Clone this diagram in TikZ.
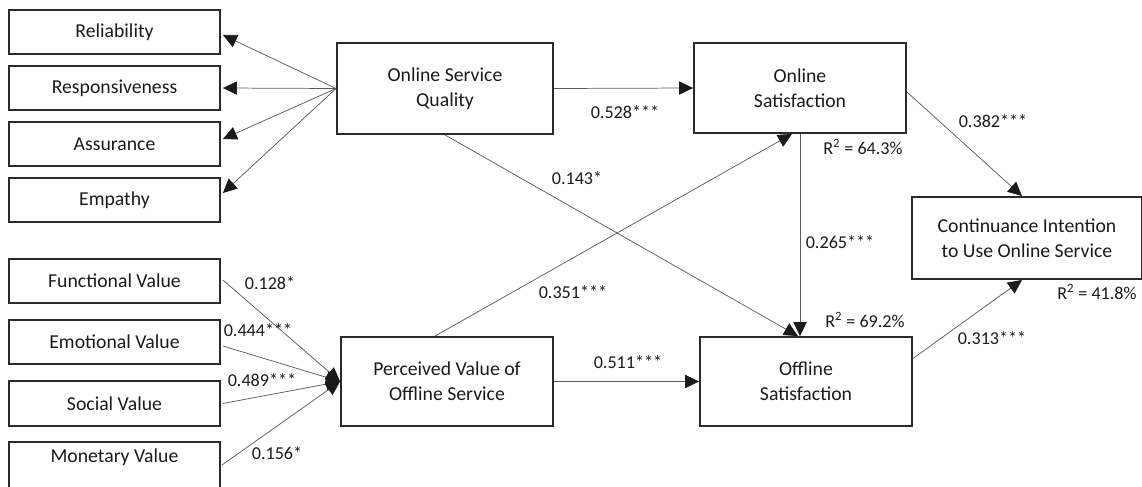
\documentclass[tikz,border=0pt]{standalone}
\usepackage{fontspec}
\setmainfont{Carlito}
\usetikzlibrary{arrows.meta,calc}
\definecolor{bordercol}{HTML}{2A2A2A}
\definecolor{linecol}{HTML}{5A5A5A}
\definecolor{tipcol}{HTML}{1A1A1A}
\definecolor{txtcol}{HTML}{1A1A1A}
\tikzset{
  box/.style={draw=bordercol, line width=1.4pt, rectangle, inner sep=0pt, align=center,
    text=txtcol, font=\fontsize{14.8}{18.75}\selectfont},
  smallbox/.style={box, minimum width=158.25pt, minimum height=33pt},
  bigbox/.style={box, minimum width=159pt, minimum height=67.5pt},
  conn/.style={draw=linecol, line width=0.55pt, -{Triangle[length=10.5pt,width=10pt,color=tipcol,fill=tipcol]}},
  lbl/.style={inner sep=0pt, text=txtcol, font=\fontsize{13.6}{16}\selectfont}
}
\begin{document}
\begin{tikzpicture}[x=0.75pt,y=-0.75pt]
\useasboundingbox (0,0) rectangle (1142,486);
% left boxes
\node[smallbox] (rel)  at (114.5,32)  {Reliability};
\node[smallbox] (resp) at (114.5,88)  {Responsiveness};
\node[smallbox] (assu) at (114.5,144) {Assurance};
\node[smallbox] (emp)  at (114.5,200) {Empathy};
\node[smallbox] (func) at (114.5,281) {Functional Value};
\node[smallbox] (emo)  at (114.5,342) {Emotional Value};
\node[smallbox, minimum height=33.75pt] (soc) at (114.5,403.5) {Social Value};
\node[smallbox, minimum height=45pt, text height=8pt, text depth=22pt] (mon) at (114.5,472) {Monetary Value};
% main boxes
\node[box, minimum width=162pt, minimum height=68.25pt] (osq) at (445,88.5) {Online Service\\Quality};
\node[bigbox] (ons)  at (800,88)    {Online\\Satisfaction};
\node[bigbox, minimum height=66.75pt] (pv)   at (447,381.5) {Perceived Value of\\Offline Service};
\node[bigbox, minimum height=66.75pt] (offs) at (806,381.5) {Offline\\Satisfaction};
\node[box, minimum width=172.5pt, minimum height=61.5pt] (ci) at (1027,238) {Continuance Intention\\to Use Online Service};
% dimension arrows
\draw[conn] (osq.west) -- ($(rel.east)+(2,3)$);
\draw[conn] (osq.west) -- ($(resp.east)+(2,0)$);
\draw[conn] (osq.west) -- ($(assu.east)+(2,-5)$);
\draw[conn] (osq.west) -- ($(emp.east)+(2,-7)$);
% value arrows
\draw[conn] ($(func.east)+(2,-1)$) -- (pv.west);
\draw[conn] ($(emo.east)+(2,4)$) -- (pv.west);
\draw[conn] ($(soc.east)+(2,0)$) -- (pv.west);
\draw[conn] (222,465) coordinate (monout) -- (pv.west);
% structural paths
\draw[conn] (osq.east) -- (ons.west);
\draw[conn] (osq.south) -- ($(offs.north)+(-8,0)$);
\draw[conn] ($(pv.north)+(-12,0)$) -- ($(ons.south)+(-8,0)$);
\draw[conn] (ons.south) -- (ons.south |- offs.north);
\draw[conn] (pv.east) -- (offs.west);
\draw[conn] ($(ons.east)+(0,4)$) -- ($(ci.north)+(-5,0)$);
\draw[conn] ($(offs.east)+(0,-23)$) -- ($(ci.south)+(-5,0)$);
% labels
\node[lbl] (l1) at (270,283) {0.128*};
\node[lbl] (l2) at (258,330) {0.444***};
\node[lbl] (l3) at (262,380) {0.489***};
\node[lbl] (l4) at (277,453) {0.156*};
\node[lbl] (l5) at (625,112) {0.528***};
\node[lbl] (l6) at (577,178) {0.143*};
\node[lbl] (l7) at (573,292) {0.351***};
\node[lbl] (l8) at (628,362) {0.511***};
\node[lbl] (l9) at (840,242) {0.265***};
\node[lbl] (l10) at (993,121) {0.382***};
\node[lbl] (l11) at (992,338) {0.313***};
\node[lbl] (r1) at (863,147) {R\textsuperscript{2} = 64.3\%};
\node[lbl] (r2) at (865,320) {R\textsuperscript{2} = 69.2\%};
\node[lbl] (r3) at (1097,292) {R\textsuperscript{2} = 41.8\%};
\end{tikzpicture}
\end{document}
